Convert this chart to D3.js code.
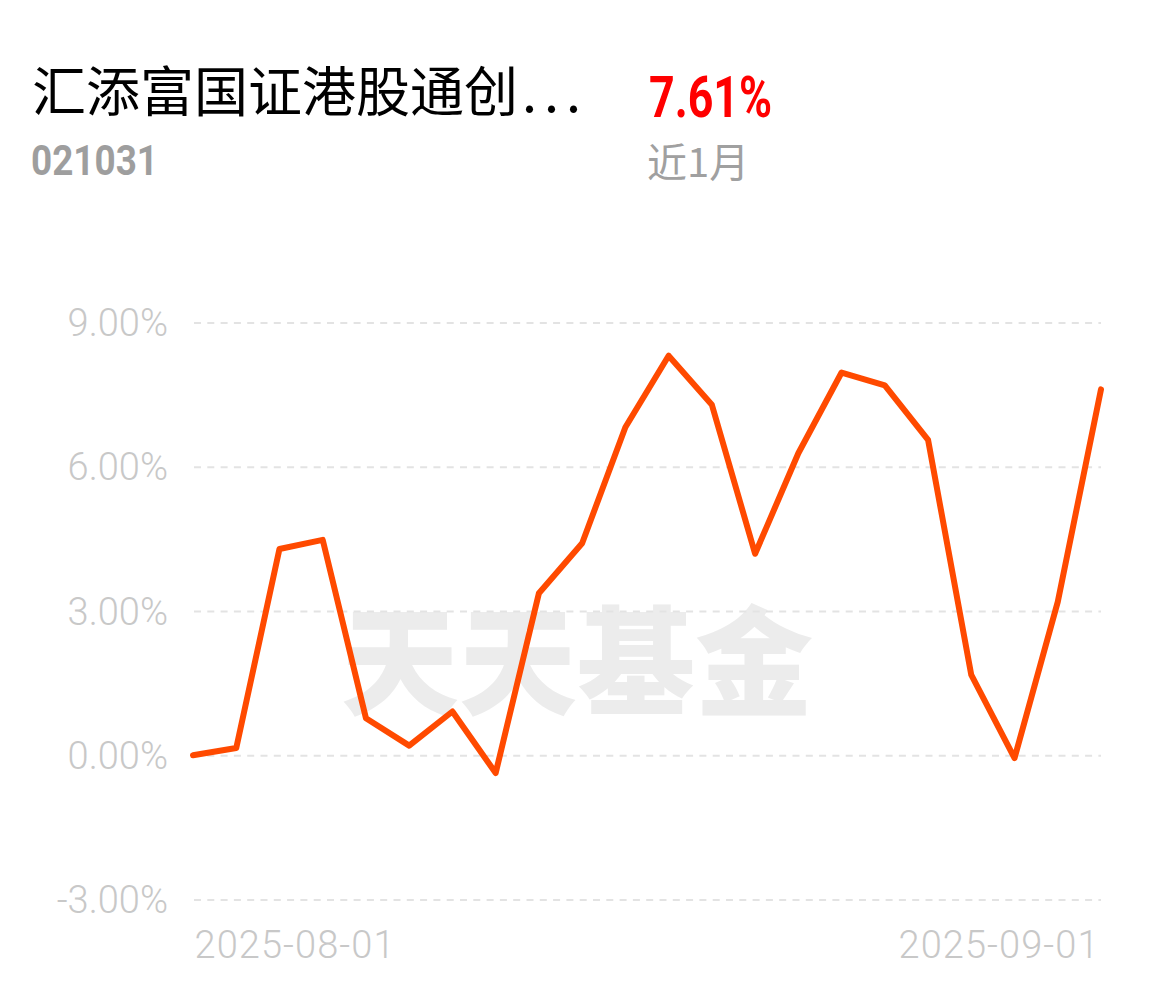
<!DOCTYPE html>
<html>
<head>
<meta charset="utf-8">
<script src="https://cdn.jsdelivr.net/npm/d3@7"></script>
<style>
html,body{margin:0;padding:0;background:#fff;}
svg{display:block;}
</style>
</head>
<body>
<svg id="chart" width="1154" height="986"></svg>
<script>
const fundName = "汇添富国证港股通创";
const fundEllipsis = "...";
const fundCode = "021031";
const periodReturn = "7.61%";
const periodLabel = "近1月";
const watermark = "天天基金";

const dates = ["2025-08-01","2025-08-04","2025-08-05","2025-08-06","2025-08-07","2025-08-08",
  "2025-08-11","2025-08-12","2025-08-13","2025-08-14","2025-08-15",
  "2025-08-18","2025-08-19","2025-08-20","2025-08-21","2025-08-22",
  "2025-08-25","2025-08-26","2025-08-27","2025-08-28","2025-08-29","2025-09-01"];
const returns = [0.00, 0.15, 4.29, 4.48, 0.77, 0.20, 0.91, -0.37, 3.37, 4.41, 6.82,
  8.31, 7.29, 4.19, 6.28, 7.96, 7.69, 6.56, 1.67, -0.06, 3.19, 7.61];
const yTicks = [-3, 0, 3, 6, 9];
const xTickLabels = ["2025-08-01", "2025-09-01"];

const svg = d3.select("#chart");

// header
const title = svg.append("text").attr("x", 32).attr("y", 112)
  .attr("font-family", "'Noto Sans CJK SC', sans-serif").attr("font-size", 54)
  .attr("fill", "#000");
title.append("tspan").text(fundName);
title.append("tspan").attr("dx", 4).attr("letter-spacing", 7).text(fundEllipsis);
svg.append("text").attr("x", 31).attr("y", 175)
  .attr("font-family", "Roboto, sans-serif").attr("font-weight", 700).attr("font-size", 42)
  .attr("textLength", 127).attr("lengthAdjust", "spacingAndGlyphs")
  .attr("fill", "#9e9e9e").text(fundCode);
svg.append("text").attr("x", 649).attr("y", 117)
  .attr("font-family", "Roboto, sans-serif").attr("font-weight", 700).attr("font-size", 58)
  .attr("textLength", 123).attr("lengthAdjust", "spacingAndGlyphs")
  .attr("fill", "#ff0000").text(periodReturn);
svg.append("text").attr("x", 647).attr("y", 177)
  .attr("font-family", "'Noto Sans CJK SC', sans-serif").attr("font-size", 40)
  .attr("fill", "#a0a0a0").text(periodLabel);

// scales
const x = d3.scalePoint().domain(dates).range([193, 1101]);
const y = d3.scaleLinear().domain([-3, 9]).range([899.5, 322.5]);

// watermark
svg.append("text").attr("x", 341).attr("y", 706)
  .attr("font-family", "'Noto Sans CJK SC', sans-serif").attr("font-weight", 900)
  .attr("font-size", 118).attr("fill", "#ececec").text(watermark);

// y axis with grid
const yAxis = d3.axisLeft(y).tickValues(yTicks)
  .tickFormat(d => d.toFixed(2) + "%")
  .tickSize(-(1101 - 194)).tickPadding(26);
const gy = svg.append("g").attr("transform", "translate(194,0)").call(yAxis);
gy.select(".domain").remove();
gy.selectAll(".tick line").attr("stroke", "#e3e3e3").attr("stroke-width", 2)
  .attr("stroke-dasharray", "7,6.3");
gy.selectAll(".tick text").attr("font-family", "Roboto, sans-serif").attr("font-weight", 300)
  .attr("font-size", 38).attr("fill", "#c8c8c8").attr("dy", 13);

// x axis labels (first and last only)
const xAxis = d3.axisBottom(x).tickValues(xTickLabels).tickSize(0).tickPadding(0);
const gx = svg.append("g").attr("transform", "translate(0,958)").call(xAxis);
gx.select(".domain").remove();
gx.selectAll(".tick text").attr("font-family", "Roboto, sans-serif").attr("font-weight", 300)
  .attr("font-size", 38).attr("fill", "#c8c8c8").attr("dy", 0).attr("y", 0)
  .attr("textLength", 200).attr("lengthAdjust", "spacing")
  .attr("text-anchor", (d, i) => i === 0 ? "start" : "end")
  .attr("dx", (d, i) => i === 0 ? 1 : -3);

// line
const line = d3.line().x((d, i) => x(dates[i])).y(d => y(d));
svg.append("path").datum(returns).attr("d", line)
  .attr("fill", "none").attr("stroke", "#ff4a00").attr("stroke-width", 6)
  .attr("stroke-linejoin", "round").attr("stroke-linecap", "round");
</script>
</body>
</html>
